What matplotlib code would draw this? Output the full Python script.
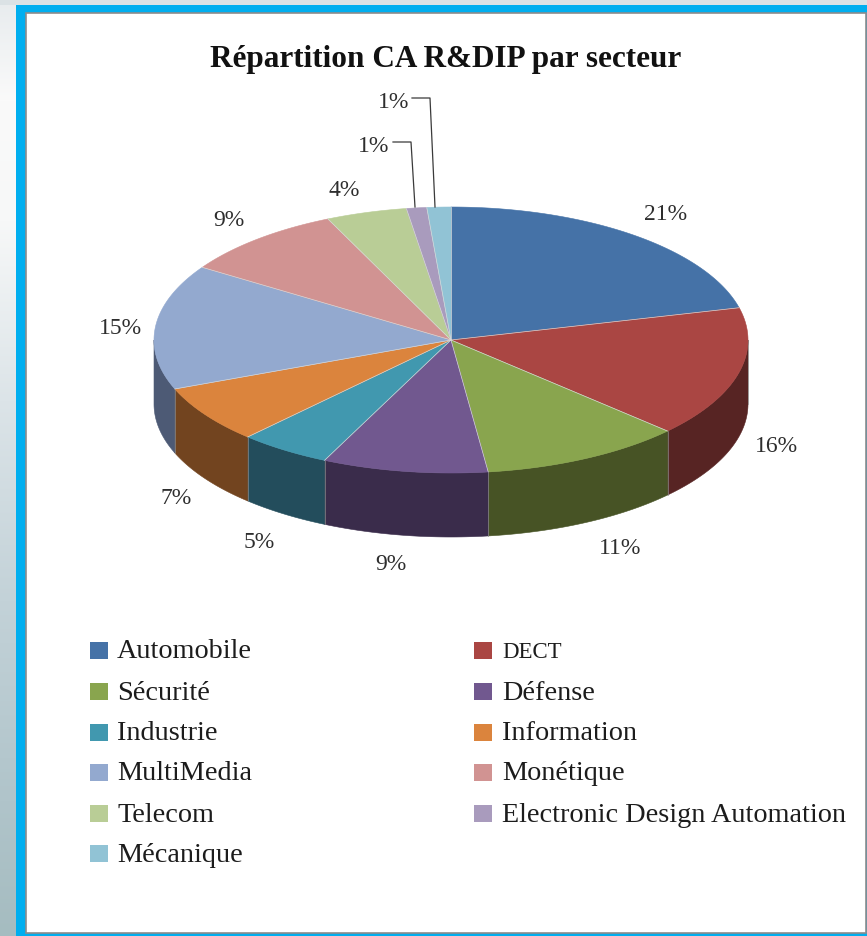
import matplotlib
matplotlib.use("Agg")
import matplotlib.pyplot as plt
import numpy as np
from matplotlib.patches import Polygon, Rectangle

secteurs = ["Automobile", "DECT", "Sécurité", "Défense", "Industrie", "Information",
            "MultiMedia", "Monétique", "Telecom", "Electronic Design Automation", "Mécanique"]
# parts en %, une decimale (les etiquettes sont arrondies a l'entier)
parts = [21.1, 15.9, 11.0, 9.0, 5.0, 7.0, 15.2, 9.0, 4.4, 1.1, 1.3]
couleurs = ["#4572a7", "#aa4643", "#89a54e", "#71588f", "#4198af", "#db843d",
            "#93a9cf", "#d19392", "#b9cd96", "#a99bbd", "#91c3d5"]
sombres = ["#2a4464", "#572423", "#475325", "#3a2c4b", "#234d5c", "#72441f",
           "#4d5a75", "#6b4b4b", "#5f6a4d", "#574f61", "#4a646e"]

# geometrie du camembert, en pixels
cx, cy = 451, 340
rx, ry = 297, 133
epaisseur = 64

# position des etiquettes de pourcentage
pos_etiquettes = [(666, 215), (776, 446), (620, 549), (391, 565), (259, 542), (176, 498),
                  (120, 328), (229, 220), (344, 190), (374, 146), (394, 102)]
rangees = [650, 691, 732, 772, 813, 853]

plt.rcParams['font.family'] = ['Liberation Serif', 'DejaVu Serif']

fig = plt.figure(figsize=(8.67, 9.36), dpi=100)
ax = fig.add_axes([0, 0, 1, 1])
ax.axis('off')

# fond derriere le cadre, plus bleute vers le bas
stops_y = [0, 100, 220, 400, 600, 800, 936]
stops_r = [232, 250, 247, 220, 195, 176, 165]
stops_v = [236, 250, 248, 228, 210, 196, 188]
stops_b = [238, 250, 248, 232, 216, 202, 192]
ys = np.arange(936)
img = np.stack([np.interp(ys, stops_y, stops_r),
                np.interp(ys, stops_y, stops_v),
                np.interp(ys, stops_y, stops_b)], axis=1)[:, None, :] / 255
ax.imshow(img, extent=[0, 867, 936, 0], aspect='auto', zorder=0)
ax.set_xlim(0, 867)
ax.set_ylim(936, 0)
ax.add_patch(Rectangle((0, 0), 867, 5, fc="#dbe2e5", ec='none', zorder=0.5))

# cadre bleu et zone blanche
ax.add_patch(Rectangle((16, 5), 851, 931, fc="#00aeef", ec='none', zorder=1))
ax.add_patch(Rectangle((26, 13), 840, 920, fc="white", ec='#8c8c8c', lw=1.2, zorder=2))


def arc(t0, t1, dy=0):
    t = np.radians(np.linspace(t0, t1, max(int(abs(t1 - t0) * 2), 2)))
    return np.column_stack([cx + rx * np.sin(t), cy - ry * np.cos(t) + dy])


# angles des parts, sens horaire depuis le haut
bornes = np.cumsum([0] + parts) / sum(parts) * 360

# flanc visible
for i in range(len(parts)):
    a0 = max(bornes[i], 90)
    a1 = min(bornes[i + 1], 270)
    if a1 <= a0:
        continue
    pts = np.vstack([arc(a0, a1), arc(a0, a1, epaisseur)[::-1]])
    ax.add_patch(Polygon(pts, closed=True, fc=sombres[i], ec=sombres[i], lw=0.4, zorder=3))
    ax.plot([pts[0, 0], pts[0, 0]], [pts[0, 1], pts[0, 1] + epaisseur],
            color="#8a8a8a", lw=0.5, zorder=3.5)

# dessus
for i in range(len(parts)):
    pts = np.vstack([[cx, cy], arc(bornes[i], bornes[i + 1])])
    ax.add_patch(Polygon(pts, closed=True, fc=couleurs[i], ec=couleurs[i], lw=0.4, zorder=4))
for i in range(len(parts)):
    bord = arc(bornes[i], bornes[i] + 0.01)[0]
    ax.plot([cx, bord[0]], [cy, bord[1]], color="#d9d9d9", lw=0.5, zorder=5)

# etiquettes
for val, (x, y) in zip(parts, pos_etiquettes):
    ax.text(x, y, f"{val:.0f}%", ha='center', va='center', fontsize=17, color="#2e2e2e", zorder=6)

# traits de rappel des deux petites parts
ax.plot([393, 411, 415], [142, 142, 207], color="#3a3a3a", lw=0.9, zorder=6)
ax.plot([412, 430, 435], [98, 98, 207], color="#3a3a3a", lw=0.9, zorder=6)

ax.text(446, 59, "Répartition CA R&DIP par secteur", ha='center', va='center',
        fontsize=22.5, fontweight='bold', color="#111111", zorder=6)

# legende sur deux colonnes
for i, nom in enumerate(secteurs):
    col = i % 2
    y = rangees[i // 2]
    x_c = 90 if col == 0 else 474
    x_t = 117 if col == 0 else 502
    ax.add_patch(Rectangle((x_c, y - 8), 18, 17, fc=couleurs[i], ec='none', zorder=6))
    ax.text(x_t, y + 2, nom, ha='left', va='center', fontsize=16.5 if nom == "DECT" else 20.3,
            color="#1c1c1c", zorder=6)

fig.savefig("out.png", dpi=100)
